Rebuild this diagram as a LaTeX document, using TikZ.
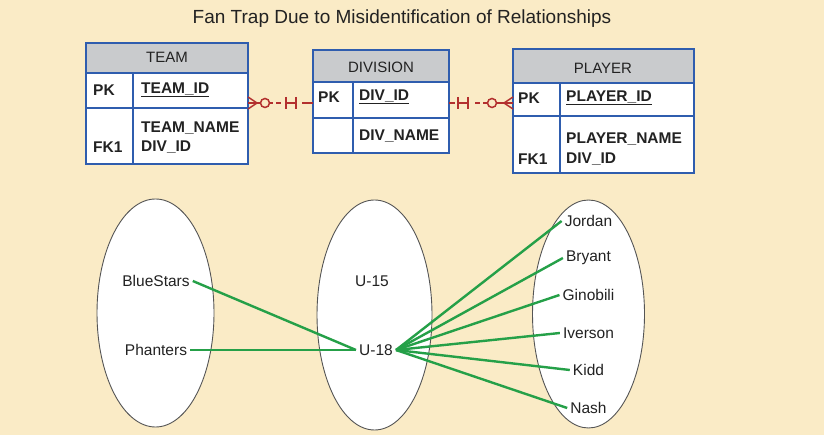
\documentclass[tikz,border=0pt]{standalone}
\usepackage{fontspec}
\setmainfont{Liberation Sans}
\usetikzlibrary{shapes.geometric,calc}
\definecolor{bgcream}{HTML}{FAEBC6}
\definecolor{tblblue}{HTML}{2F5DAE}
\definecolor{hdrgray}{HTML}{C9CBCD}
\definecolor{txtdark}{HTML}{222222}
\definecolor{erred}{HTML}{B3302E}
\definecolor{fangreen}{HTML}{25A048}
\definecolor{ellgray}{HTML}{555555}
\tikzset{
  tbl/.style={draw=tblblue, line width=2.4pt, fill=white},
  hdr/.style={fill=hdrgray},
  sep/.style={draw=tblblue, line width=2.2pt},
  hdrtxt/.style={font=\fontsize{15}{17}\selectfont, text=txtdark, inner sep=0pt},
  celltxt/.style={font=\fontsize{15.5}{17}\selectfont\bfseries, text=txtdark, inner sep=0pt, anchor=west},
  er/.style={draw=erred, line width=1.5pt},
  set/.style={ellipse, draw=ellgray, line width=0.9pt, fill=white, inner sep=0pt},
  elem/.style={font=\fontsize{15.5}{17}\selectfont, text=txtdark, inner sep=3pt},
  fan/.style={draw=fangreen, line width=2.4pt}
}
\begin{document}
\begin{tikzpicture}[x=1pt,y=-1pt]
\useasboundingbox[fill=bgcream] (0,0) rectangle (824,435);
\node[font=\fontsize{19}{21}\selectfont, text=txtdark] (title) at (402,19) {Fan Trap Due to Misidentification of Relationships};

% TEAM table
\path[tbl] (86,43) rectangle (248,164);
\path[hdr] (86,43) rectangle (248,73);
\draw[tbl, fill=none] (86,43) rectangle (248,164);
\draw[sep] (86,73) -- (248,73);
\draw[sep] (86,108) -- (248,108);
\draw[sep] (133,73) -- (133,164);
\node[hdrtxt] (teamH) at (167,57) {TEAM};
\node[celltxt] (teamPK) at (93,90) {PK};
\node[celltxt] (teamID) at (141,90) {\underline{TEAM\_ID}};
\node[celltxt] (teamNM) at (141,128) {TEAM\_NAME};
\node[celltxt] (teamDV) at (141,147) {DIV\_ID};
\node[celltxt] (teamFK) at (93,147) {FK1};

% DIVISION table
\path[tbl] (313,50) rectangle (449,153);
\path[hdr] (313,50) rectangle (449,82);
\draw[tbl, fill=none] (313,50) rectangle (449,153);
\draw[sep] (313,82) -- (449,82);
\draw[sep] (313,118) -- (449,118);
\draw[sep] (353,82) -- (353,153);
\node[hdrtxt] (divH) at (381,67) {DIVISION};
\node[celltxt] (divPK) at (318,97) {PK};
\node[celltxt] (divID) at (359,97) {\underline{DIV\_ID}};
\node[celltxt] (divNM) at (359,136) {DIV\_NAME};

% PLAYER table
\path[tbl] (513,49) rectangle (694,173);
\path[hdr] (513,49) rectangle (694,83);
\draw[tbl, fill=none] (513,49) rectangle (694,173);
\draw[sep] (513,83) -- (694,83);
\draw[sep] (513,116) -- (694,116);
\draw[sep] (560,83) -- (560,173);
\node[hdrtxt] (plH) at (603,68) {PLAYER};
\node[celltxt] (plPK) at (518,98) {PK};
\node[celltxt] (plID) at (566,98) {\underline{PLAYER\_ID}};
\node[celltxt] (plNM) at (566,139) {PLAYER\_NAME};
\node[celltxt] (plDV) at (566,159) {DIV\_ID};
\node[celltxt] (plFK) at (518,159) {FK1};

% ER links
\coordinate (teamR) at (248,103);
\coordinate (divL) at (313,103);
\coordinate (divR) at (449,103);
\coordinate (playL) at (513,103);

% TEAM -- DIVISION
\draw[er] (teamR) -- ($(teamR)+(12.5,0)$);
\draw[er] ($(teamR)+(9,0)$) -- ($(teamR)+(0,-6)$);
\draw[er] ($(teamR)+(9,0)$) -- ($(teamR)+(0,6)$);
\draw[er] ($(teamR)+(17,0)$) circle (4.5);
\draw[er] ($(teamR)+(21.5,0)$) -- ($(teamR)+(25,0)$);
\draw[er] ($(teamR)+(28,0)$) -- ($(teamR)+(33,0)$);
\draw[er] ($(divL)+(-27,0)$) -- ($(divL)+(-17,0)$);
\draw[er] ($(divL)+(-27,-6)$) -- ($(divL)+(-27,6)$);
\draw[er] ($(divL)+(-17,-6)$) -- ($(divL)+(-17,6)$);
\draw[er] ($(divL)+(-11,0)$) -- (divL);

% DIVISION -- PLAYER
\draw[er] (divR) -- ($(divR)+(6,0)$);
\draw[er] ($(divR)+(9,0)$) -- ($(divR)+(19,0)$);
\draw[er] ($(divR)+(9,-6)$) -- ($(divR)+(9,6)$);
\draw[er] ($(divR)+(19,-6)$) -- ($(divR)+(19,6)$);
\draw[er] ($(divR)+(26,0)$) -- ($(divR)+(31,0)$);
\draw[er] ($(playL)+(-30,0)$) -- ($(playL)+(-25.5,0)$);
\draw[er] ($(playL)+(-21,0)$) circle (4.5);
\draw[er] ($(playL)+(-16.5,0)$) -- (playL);
\draw[er] ($(playL)+(-9,0)$) -- ($(playL)+(0,-6)$);
\draw[er] ($(playL)+(-9,0)$) -- ($(playL)+(0,6)$);

% sets
\node[set, minimum width=117, minimum height=228] (teams) at (155.5,313) {};
\node[set, minimum width=115, minimum height=230] (divs) at (374.5,315) {};
\node[set, minimum width=112, minimum height=228] (players) at (588.5,314) {};

\node[elem] (blue) at (156,281) {BlueStars};
\node[elem] (phan) at (156,350) {Phanters};
\node[elem] (u15) at (372,281) {U-15};
\node[elem] (u18) at (376,350) {U-18};
\node[elem] (jordan) at (588.5,221) {Jordan};
\node[elem] (bryant) at (588.5,258) {Bryant};
\node[elem] (gino) at (588.5,295) {Ginobili};
\node[elem] (iver) at (588.5,333) {Iverson};
\node[elem] (kidd) at (588.5,370) {Kidd};
\node[elem] (nash) at (588.5,408) {Nash};

\draw[fan] (blue.east) -- (u18.west);
\draw[fan] (phan.east) -- (u18.west);
\foreach \p in {jordan,bryant,gino,iver,kidd,nash}
  \draw[fan] (u18.east) -- (\p.west);
\end{tikzpicture}
\end{document}
